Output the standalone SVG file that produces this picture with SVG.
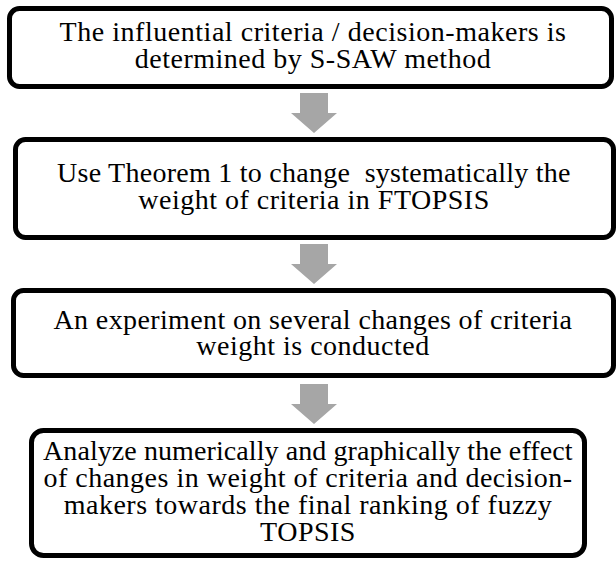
<svg xmlns="http://www.w3.org/2000/svg" width="616" height="561" viewBox="0 0 616 561">
<style>
.box{fill:#ffffff;stroke:#000000;stroke-width:5}
.t{font-family:"Liberation Serif","Times New Roman",serif;font-size:28px;letter-spacing:0.5px;fill:#000000;text-anchor:middle;white-space:pre}
.arr{fill:#a6a6a6;stroke:none}
</style>
<defs>
<path id="arrow" class="arr" d="M-14,0 H14 V20 H23 L0,40 L-23,20 H-14 Z"/>
</defs>
<rect width="616" height="561" fill="#ffffff"/>
<g id="connectors">
<use href="#arrow" x="314" y="93"/>
<use href="#arrow" x="314" y="244"/>
<use href="#arrow" x="314" y="384"/>
</g>
<g id="node1">
<rect class="box" x="9.5" y="8.5" width="602" height="78" rx="10"/>
<text class="t" x="313" y="41" textLength="507" lengthAdjust="spacing">The influential criteria / decision-makers is</text>
<text class="t" x="313" y="68">determined by S-SAW method</text>
</g>
<g id="node2">
<rect class="box" x="15.5" y="139.5" width="598" height="98" rx="10"/>
<text class="t" x="314" y="182" textLength="514" lengthAdjust="spacing">Use Theorem 1 to change  systematically the</text>
<text class="t" x="314" y="209">weight of criteria in FTOPSIS</text>
</g>
<g id="node3">
<rect class="box" x="13.5" y="290.5" width="600" height="85" rx="10"/>
<text class="t" x="313" y="329" textLength="519" lengthAdjust="spacing">An experiment on several changes of criteria</text>
<text class="t" x="313" y="355">weight is conducted</text>
</g>
<g id="node4">
<rect class="box" x="31.5" y="430.5" width="553" height="125" rx="12"/>
<text class="t" x="308" y="460" textLength="530" lengthAdjust="spacing">Analyze numerically and graphically the effect</text>
<text class="t" x="308" y="487">of changes in weight of criteria and decision-</text>
<text class="t" x="308" y="514">makers towards the final ranking of fuzzy</text>
<text class="t" x="308" y="541">TOPSIS</text>
</g>
</svg>
